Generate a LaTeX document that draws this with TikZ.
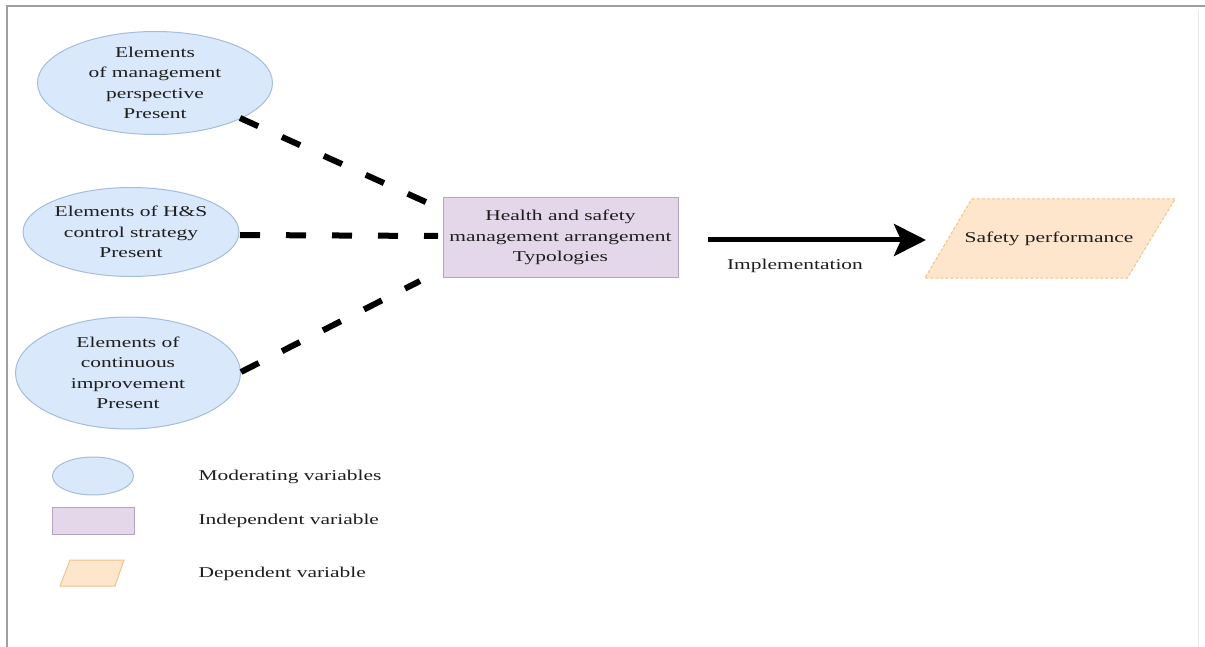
\documentclass[tikz,border=0pt]{standalone}
\usepackage{fontspec}
\setmainfont{Liberation Serif}[FakeStretch=1.43]
\usetikzlibrary{shapes.geometric,arrows.meta,calc}

\definecolor{modfill}{HTML}{DAE8FC}
\definecolor{moddraw}{HTML}{A6BCDB}
\definecolor{indfill}{HTML}{E4D7EA}
\definecolor{inddraw}{HTML}{B6A3C2}
\definecolor{depfill}{HTML}{FDE6CC}
\definecolor{depdraw}{HTML}{EFC48A}
\definecolor{txt}{HTML}{1E1E1E}

\tikzset{
  lbl/.style={font=\fontsize{15}{20.5}\selectfont, text=txt, align=center},
  modvar/.style={lbl, ellipse, draw=moddraw, fill=modfill, line width=1pt, inner sep=0pt},
  indvar/.style={lbl, rectangle, draw=inddraw, fill=indfill, line width=1pt, inner sep=0pt},
  link/.style={line width=6pt, dash pattern=on 20pt off 26pt},
  impl/.style={line width=5pt, -{Stealth[length=32pt,width=32pt,inset=7pt]}},
}

\begin{document}
\begin{tikzpicture}[x=1pt,y=-1pt]
  \useasboundingbox (0,0) rectangle (1205,647);
  \fill[white] (0,0) rectangle (1205,647);

  % page frame
  \draw[gray!75, line width=2.5pt] (7,647) -- (7,6) -- (1205,6);
  \draw[gray!18, line width=1pt] (1198,10) -- (1198,647);

  % moderating variables
  \node[modvar, minimum width=235pt, minimum height=103pt] (m1) at (155,83)
    {Elements\\of management\\perspective\\Present};
  \node[modvar, minimum width=216pt, minimum height=89pt] (m2) at (131,232)
    {Elements of H\&S\\control strategy\\Present};
  \node[modvar, minimum width=225pt, minimum height=112pt] (m3) at (128,373)
    {Elements of\\continuous\\improvement\\Present};

  % independent variable
  \node[indvar, minimum width=235pt, minimum height=79pt] (hs) at (560.5,237.5)
    {Health and safety\\management arrangement\\Typologies};

  % dependent variable (parallelogram drawn around a plain node)
  \node[lbl, minimum width=250pt, minimum height=79pt, inner sep=0pt] (sp) at (1050,238.5) {};
  \filldraw[fill=depfill, draw=depdraw, line width=1pt, dash pattern=on 3pt off 2pt]
    ($(sp.north west)+(47,0)$) -- (sp.north east) -- ($(sp.south east)+(-48,0)$)
    -- (sp.south west) -- cycle;
  \node[lbl] (spt) at (1049,239) {Safety performance};

  % moderating links
  \coordinate (e1) at (428,203);
  \coordinate (e2) at (438,236);
  \coordinate (e3) at (420,281);
  \coordinate (s1) at (240,118);
  \coordinate (s2) at (240,235);
  \coordinate (s3) at (241,372);
  \draw[link] (s1) -- (e1);
  \draw[link] (s2) -- (e2);
  \draw[link] (s3) -- (e3);

  % implementation arrow
  \coordinate (a0) at (708,240);
  \coordinate (a1) at (926,240);
  \draw[impl] (a0) -- (a1);
  \node[lbl] (impl) at (795,266) {Implementation};

  % legend
  \node[modvar, minimum width=81pt, minimum height=38pt] (legE) at (93,476) {};
  \node[indvar, minimum width=82pt, minimum height=27pt] (legR) at (93,520.5) {};
  \coordinate (legP) at (92,573);
  \filldraw[fill=depfill, draw=depdraw, line width=1pt]
    ($(legP)+(-22,-13)$) -- ($(legP)+(32,-13)$) -- ($(legP)+(23,13)$) -- ($(legP)+(-32,13)$) -- cycle;

  \node[lbl, anchor=west] (legEt) at (195,477) {Moderating variables};
  \node[lbl, anchor=west] (legRt) at (195,521) {Independent variable};
  \node[lbl, anchor=west] (legPt) at (195,574) {Dependent variable};
\end{tikzpicture}
\end{document}
